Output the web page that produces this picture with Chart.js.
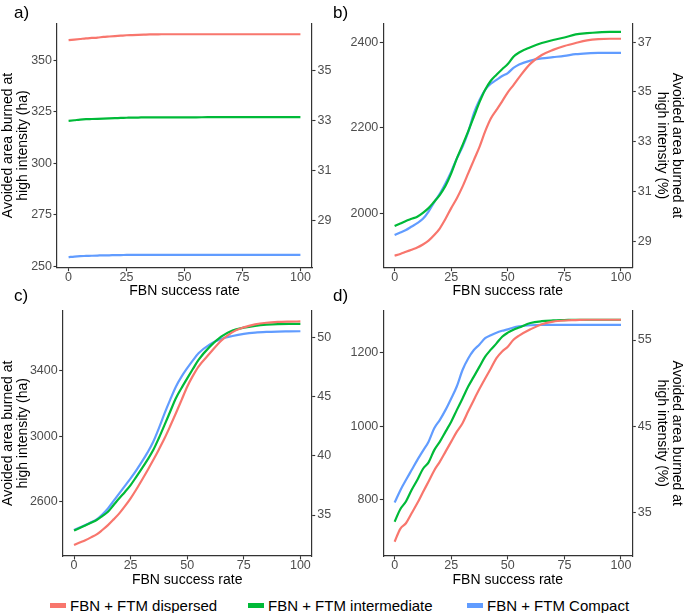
<!DOCTYPE html>
<html>
<head>
<meta charset="utf-8">
<script src="https://cdn.jsdelivr.net/npm/chart.js@4.4.1/dist/chart.umd.min.js"></script>
<style>
  html, body { margin: 0; padding: 0; background: #ffffff; }
  #wrap { position: relative; width: 685px; height: 613px; overflow: hidden; font-family: "Liberation Sans", Arial, sans-serif; }
  canvas { position: absolute; }
  .plab { position: absolute; font-size: 17px; color: #000; line-height: 1; }
  .leg { position: absolute; top: 596px; height: 18px; display: flex; align-items: center; font-size: 15px; color: #000; white-space: nowrap; }
  .leg .key { width: 16px; height: 5px; margin-right: 4px; }
</style>
</head>
<body>
<div id="wrap">
  <canvas id="ca" width="342" height="300" style="left:0px;top:0px;"></canvas>
  <canvas id="cb" width="343" height="300" style="left:342px;top:0px;"></canvas>
  <canvas id="cc" width="342" height="290" style="left:0px;top:300px;"></canvas>
  <canvas id="cd" width="343" height="290" style="left:342px;top:300px;"></canvas>
  <div class="plab" style="left:14px;top:4px;">a)</div>
  <div class="plab" style="left:333px;top:4px;">b)</div>
  <div class="plab" style="left:14px;top:287px;">c)</div>
  <div class="plab" style="left:333px;top:287px;">d)</div>
  <div id="legend"></div>
</div>
<script>
// ---------------- data ----------------
const seriesNames = ["FBN + FTM dispersed", "FBN + FTM intermediate", "FBN + FTM Compact"];
const seriesColors = ["#F8766D", "#00BA38", "#619CFF"];

const X = [0,2.5,5,7.5,10,12.5,15,17.5,20,22.5,25,27.5,30,32.5,35,37.5,40,42.5,45,47.5,50,52.5,55,60,65,70,75,80,85,90,95,100];

const aDispersed = [359.7,360.0,360.3,360.6,360.8,361.0,361.3,361.5,361.7,361.9,362.1,362.2,362.3,362.4,362.5,362.5,362.6,362.6,362.6,362.6,362.6,362.6,362.6,362.6,362.6,362.6,362.6,362.6,362.6,362.6,362.6,362.6];
const aIntermediate = [320.6,320.9,321.2,321.4,321.5,321.6,321.7,321.8,321.9,322.0,322.1,322.2,322.2,322.3,322.3,322.3,322.3,322.3,322.3,322.3,322.3,322.3,322.3,322.4,322.4,322.4,322.4,322.4,322.4,322.4,322.4,322.4];
const aCompact = [254.5,254.8,255.0,255.1,255.2,255.3,255.4,255.4,255.5,255.5,255.6,255.6,255.6,255.6,255.6,255.6,255.6,255.6,255.6,255.6,255.6,255.6,255.6,255.6,255.6,255.6,255.6,255.6,255.6,255.6,255.6,255.6];

const bDispersed = [1902,1906,1911,1916,1921,1928,1937,1950,1966,1988,2013,2036,2063,2094,2125,2156,2192,2222,2242,2262,2283,2300,2318,2350,2370,2382,2391,2398,2404,2407,2408,2408];
const bIntermediate = [1971,1977,1983,1988,1993,2002,2013,2028,2044,2065,2094,2129,2160,2192,2226,2260,2289,2310,2324,2337,2349,2366,2376,2388,2398,2405,2411,2418,2421,2423,2424,2424];
const bCompact = [1950,1956,1962,1970,1978,1988,2005,2027,2047,2071,2098,2129,2156,2190,2234,2265,2289,2303,2312,2321,2328,2340,2348,2357,2362,2365,2368,2372,2374,2375,2375,2375];

const cDispersed = [2335,2350,2365,2382,2400,2427,2457,2492,2529,2573,2621,2675,2733,2793,2855,2920,2988,3063,3141,3222,3304,3370,3427,3508,3585,3638,3667,3685,3695,3700,3702,3703];
const cIntermediate = [2424,2439,2455,2471,2488,2512,2539,2580,2621,2660,2702,2752,2804,2858,2916,2990,3070,3152,3233,3296,3355,3412,3468,3549,3610,3648,3665,3676,3683,3687,3688,3688];
const cCompact = [2427,2442,2457,2474,2492,2522,2559,2605,2651,2697,2743,2792,2845,2902,2967,3050,3141,3225,3304,3365,3417,3465,3508,3563,3596,3614,3627,3635,3639,3641,3642,3643];

const dDispersed = [687,722,737,764,791,821,850,880,904,931,958,985,1008,1040,1071,1101,1129,1156,1184,1202,1215,1234,1245,1262,1276,1283,1286,1287,1288,1288,1288,1288];
const dIntermediate = [741,775,796,827,854,884,902,935,958,985,1012,1044,1075,1107,1134,1161,1188,1207,1224,1242,1253,1261,1267,1279,1284,1286,1287,1288,1288,1288,1288,1288];
const dCompact = [793,826,854,881,908,933,958,994,1017,1044,1075,1108,1152,1183,1206,1221,1238,1246,1253,1258,1262,1267,1270,1273,1274,1274,1274,1274,1274,1274,1274,1274];

const xTicks = [0,25,50,75,100];
const aLeftTicks = [250,275,300,325,350];
const aRightTicks = [29,31,33,35];
const bLeftTicks = [2000,2200,2400];
const bRightTicks = [29,31,33,35,37];
const cLeftTicks = [2600,3000,3400];
const cRightTicks = [35,40,45,50];
const dLeftTicks = [800,1000,1200];
const dRightTicks = [35,45,55];

const xTitle = "FBN success rate";
const yTitleHa = ["Avoided area burned at", "high intensity (ha)"];
const yTitlePct = ["Avoided area burned at", "high intensity (%)"];

// ---------------- drawing ----------------
const FONT = '"Liberation Sans", Arial, sans-serif';
const AXIS_COLOR = '#333333';
const TICK_COLOR = '#4d4d4d';

function makePanel(id, p) {
  const datasets = p.series.map((vals, i) => ({
    label: seriesNames[i],
    data: X.map((x, k) => ({x: x, y: vals[k]})),
    borderColor: seriesColors[i],
    backgroundColor: seriesColors[i],
    borderWidth: 2.2,
    pointRadius: 0,
    cubicInterpolationMode: 'monotone',
    yAxisID: 'y'
  }));
  // draw in order compact, dispersed, intermediate? keep legend order but draw like ggplot (factor order)
  const gridCommon = { display: true, drawOnChartArea: false, drawTicks: true, tickLength: 3.5, tickColor: AXIS_COLOR, tickWidth: 1.1 };
  const borderCommon = { display: true, color: AXIS_COLOR, width: 1.2 };
  const tickFont = { family: FONT, size: 12.5, lineHeight: 1 };
  const titleFont = { family: FONT, size: 14, lineHeight: 1.1 };
  new Chart(document.getElementById(id), {
    type: 'line',
    data: { datasets: datasets },
    options: {
      responsive: false,
      animation: false,
      events: [],
      layout: { padding: { top: p.topPad, left: 0, right: 0, bottom: 0 } },
      plugins: { legend: { display: false }, tooltip: { enabled: false } },
      scales: {
        x: {
          type: 'linear', position: 'bottom', min: -5, max: 105,
          grid: gridCommon, border: borderCommon,
          afterBuildTicks: s => { s.ticks = xTicks.map(v => ({value: v})); },
          ticks: { font: tickFont, color: TICK_COLOR, padding: 0, maxRotation: 0, callback: v => String(v) },
          title: { display: true, text: xTitle, color: '#000', font: titleFont, padding: { top: 0, bottom: p.xTitlePad } },
          afterFit: s => { s.height = p.bottomH; }
        },
        y: {
          type: 'linear', position: 'left', min: p.leftRange[0], max: p.leftRange[1],
          grid: gridCommon, border: borderCommon,
          afterBuildTicks: s => { s.ticks = p.leftTicks.map(v => ({value: v})); },
          ticks: { font: tickFont, color: TICK_COLOR, padding: 1.5, callback: v => String(v) },
          title: p.leftTitle ? { display: true, text: p.leftTitle, color: '#000', font: titleFont, padding: { top: 0, bottom: 0 } } : { display: false },
          afterFit: s => { s.width = p.leftW; }
        },
        y2: {
          type: 'linear', position: 'right', min: p.rightRange[0], max: p.rightRange[1],
          grid: gridCommon, border: borderCommon,
          afterBuildTicks: s => { s.ticks = p.rightTicks.map(v => ({value: v})); },
          ticks: { font: tickFont, color: TICK_COLOR, padding: 2, callback: v => String(v) },
          title: p.rightTitle ? { display: true, text: p.rightTitle, color: '#000', font: titleFont, padding: { top: 0.3, bottom: 0 } } : { display: false },
          afterFit: s => { s.width = p.rightW; }
        }
      }
    }
  });
}

makePanel('ca', {
  series: [aDispersed, aIntermediate, aCompact],
  leftRange: [249.4, 367.9], rightRange: [27.11, 36.91],
  leftTicks: aLeftTicks, rightTicks: aRightTicks,
  leftTitle: yTitleHa, rightTitle: null,
  leftW: 57, rightW: 30, topPad: 23.3, bottomH: 32.3, xTitlePad: 1.3
});
makePanel('cb', {
  series: [bDispersed, bIntermediate, bCompact],
  leftRange: [1874, 2444], rightRange: [27.93, 37.76],
  leftTicks: bLeftTicks, rightTicks: bRightTicks,
  leftTitle: null, rightTitle: yTitlePct,
  leftW: 41.3, rightW: 52.7, topPad: 23.3, bottomH: 32.3, xTitlePad: 1.3
});
makePanel('cc', {
  series: [cDispersed, cIntermediate, cCompact],
  leftRange: [2268, 3770], rightRange: [31.54, 52.26],
  leftTicks: cLeftTicks, rightTicks: cRightTicks,
  leftTitle: yTitleHa, rightTitle: null,
  leftW: 62.7, rightW: 30.3, topPad: 10.5, bottomH: 34, xTitlePad: 2.3
});
makePanel('cd', {
  series: [dDispersed, dIntermediate, dCompact],
  leftRange: [648.4, 1313], rightRange: [29.96, 58.42],
  leftTicks: dLeftTicks, rightTicks: dRightTicks,
  leftTitle: null, rightTitle: yTitlePct,
  leftW: 41.3, rightW: 52.7, topPad: 10.5, bottomH: 34, xTitlePad: 2.3
});

// legend (HTML, built from series names/colors)
const legendLeft = [50, 248, 467];
const legendEl = document.getElementById('legend');
seriesNames.forEach((name, i) => {
  const item = document.createElement('div');
  item.className = 'leg';
  item.style.left = legendLeft[i] + 'px';
  const key = document.createElement('span');
  key.className = 'key';
  key.style.background = seriesColors[i];
  const txt = document.createElement('span');
  txt.textContent = name;
  item.appendChild(key);
  item.appendChild(txt);
  legendEl.appendChild(item);
});
</script>
</body>
</html>
